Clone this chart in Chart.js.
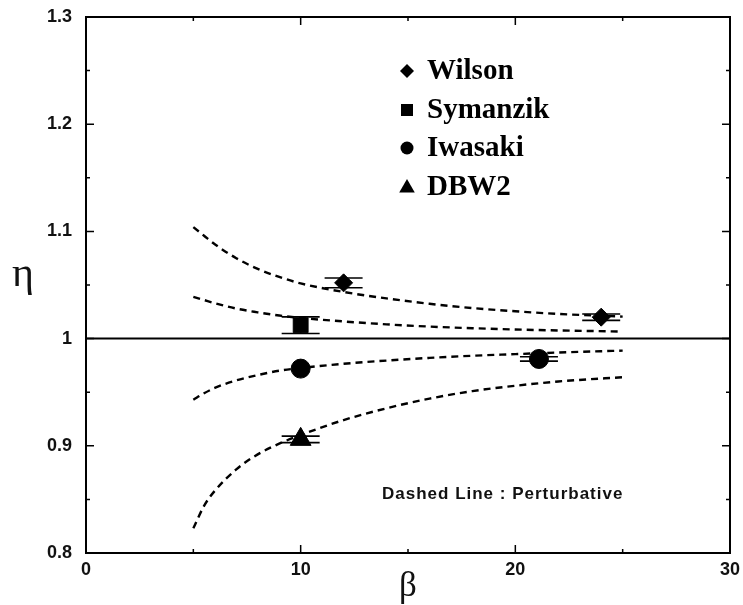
<!DOCTYPE html>
<html>
<head>
<meta charset="utf-8">
<script src="https://cdn.jsdelivr.net/npm/chart.js@4.4.1/dist/chart.umd.min.js"></script>
<style>
  html, body { margin: 0; padding: 0; background: #fff; }
</style>
</head>
<body>
<canvas id="etaChart" width="743" height="605"></canvas>
<script>
// Valores (eta x beta)
const seriesNames = ["Wilson", "Symanzik", "Iwasaki", "DBW2"];

const wilsonBeta = [12, 24];
const wilsonEta = [1.052, 1.020];
const wilsonErr = [0.0045, 0.003];

const symanzikBeta = [10];
const symanzikEta = [1.0125];
const symanzikErr = [0.0078];

const iwasakiBeta = [10, 21.1];
const iwasakiEta = [0.972, 0.981];
const iwasakiErr = [0, 0.002];

const dbw2Beta = [10];
const dbw2Eta = [0.906];
const dbw2Err = [0.003];

// Curvas perturbativas (tracejadas)
const pertBeta = [5, 5.5, 6, 7, 8, 9, 10, 12, 14, 16, 18, 20, 22, 25];
const wilsonPert = [1.104, 1.096, 1.088, 1.075, 1.065, 1.0575, 1.0515, 1.0435, 1.0375, 1.0325, 1.0285, 1.0255, 1.023, 1.0205];
const symanzikPert = [1.039, 1.036, 1.033, 1.028, 1.0245, 1.0215, 1.0193, 1.016, 1.0133, 1.0112, 1.0097, 1.0085, 1.0076, 1.0066];
const iwasakiPert = [0.943, 0.949, 0.954, 0.961, 0.966, 0.970, 0.9725, 0.9765, 0.9795, 0.982, 0.984, 0.9855, 0.987, 0.9888];
const dbw2Pert = [0.823, 0.844, 0.858, 0.878, 0.892, 0.902, 0.910, 0.924, 0.935, 0.944, 0.951, 0.956, 0.960, 0.964];

// Linha eta = 1
const unityBeta = [0, 30];
const unityEta = [1, 1];

// Ticks
const xTicks = [0, 10, 20, 30];
const xTickLabels = ["0", "10", "20", "30"];
const xMinorTicks = [5, 15, 25];
const yTicks = [0.8, 0.9, 1, 1.1, 1.2, 1.3];
const yTickLabels = ["0.8", "0.9", "1", "1.1", "1.2", "1.3"];
const yMinorTicks = [0.85, 0.95, 1.05, 1.15, 1.25];

const noteText = "Dashed Line : Perturbative";

function toPoints(xs, ys) {
    return xs.map((x, i) => ({ x: x, y: ys[i] }));
}

function pertLine(ys) {
    return {
        data: toPoints(pertBeta, ys),
        showLine: true,
        borderColor: "#000",
        borderWidth: 2.4,
        borderDash: [7, 5],
        pointRadius: 0,
        cubicInterpolationMode: "monotone",
        order: 2
    };
}

function markers(name, xs, ys, errs, style, radius) {
    return {
        label: name,
        data: toPoints(xs, ys),
        errors: errs,
        pointStyle: style,
        pointRadius: radius,
        pointHoverRadius: radius,
        backgroundColor: "#000",
        borderColor: "#000",
        borderWidth: 1,
        showLine: false,
        order: 0
    };
}

// Barras de erro (só as "tampas" largas, como na figura)
const errorBars = {
    id: "errorBars",
    afterDatasetsDraw(chart) {
        const ctx = chart.ctx;
        const yScale = chart.scales.y;
        ctx.save();
        ctx.strokeStyle = "#000";
        ctx.lineWidth = 1.6;
        chart.data.datasets.forEach((ds, i) => {
            if (!ds.errors) return;
            chart.getDatasetMeta(i).data.forEach((pt, j) => {
                if (!ds.errors[j]) return;
                const v = ds.data[j].y;
                const yTop = yScale.getPixelForValue(v + ds.errors[j]);
                const yBot = yScale.getPixelForValue(v - ds.errors[j]);
                ctx.beginPath();
                ctx.moveTo(pt.x - 19, yTop); ctx.lineTo(pt.x + 19, yTop);
                ctx.moveTo(pt.x - 19, yBot); ctx.lineTo(pt.x + 19, yBot);
                ctx.moveTo(pt.x, yTop); ctx.lineTo(pt.x, yBot);
                ctx.stroke();
            });
        });
        ctx.restore();
    }
};

// Moldura com ticks para dentro
const frameTicks = {
    id: "frameTicks",
    afterDraw(chart) {
        const ctx = chart.ctx;
        const a = chart.chartArea;
        const xs = chart.scales.x, ys = chart.scales.y;
        ctx.save();
        ctx.strokeStyle = "#000";
        ctx.lineWidth = 2;
        ctx.strokeRect(a.left, a.top, a.right - a.left, a.bottom - a.top);
        ctx.lineWidth = 1.5;
        ctx.beginPath();
        const tickX = (v, len) => {
            const px = xs.getPixelForValue(v);
            ctx.moveTo(px, a.bottom); ctx.lineTo(px, a.bottom - len);
            ctx.moveTo(px, a.top); ctx.lineTo(px, a.top + len);
        };
        const tickY = (v, len) => {
            const py = ys.getPixelForValue(v);
            ctx.moveTo(a.left, py); ctx.lineTo(a.left + len, py);
            ctx.moveTo(a.right, py); ctx.lineTo(a.right - len, py);
        };
        xTicks.forEach(v => tickX(v, 8));
        xMinorTicks.forEach(v => tickX(v, 4));
        yTicks.forEach(v => tickY(v, 8));
        yMinorTicks.forEach(v => tickY(v, 4));
        ctx.stroke();

        // titulos dos eixos
        ctx.fillStyle = "#111";
        ctx.textAlign = "center";
        ctx.textBaseline = "alphabetic";
        ctx.font = '42px "Liberation Serif"';
        ctx.fillText("\u03b7", 23, 286);
        ctx.font = '35px "Liberation Serif"';
        ctx.fillText("\u03b2", 408, 596);

        // nota
        ctx.font = 'bold 17px "Liberation Sans"';
        ctx.textAlign = "left";
        ctx.textBaseline = "middle";
        ctx.letterSpacing = "1px";
        ctx.fillText(noteText, 382, 494);
        ctx.letterSpacing = "0px";
        ctx.restore();
    }
};

// Legenda desenhada dentro do gráfico
function drawMarker(ctx, style, x, y, r) {
    ctx.beginPath();
    if (style === "rectRot") {
        ctx.moveTo(x, y - r); ctx.lineTo(x + r, y); ctx.lineTo(x, y + r); ctx.lineTo(x - r, y);
    } else if (style === "rect") {
        ctx.rect(x - r, y - r, 2 * r, 2 * r);
    } else if (style === "circle") {
        ctx.arc(x, y, r, 0, Math.PI * 2);
    } else if (style === "triangle") {
        ctx.moveTo(x, y - r); ctx.lineTo(x + r * 0.866, y + r * 0.5); ctx.lineTo(x - r * 0.866, y + r * 0.5);
    }
    ctx.closePath();
    ctx.fill();
}

const insideLegend = {
    id: "insideLegend",
    afterDraw(chart) {
        const ctx = chart.ctx;
        const rows = [71, 110, 148, 187];
        const sizes = { rectRot: 7, rect: 6, circle: 6.5, triangle: 9 };
        const offs = { rectRot: 0, rect: 0, circle: 0, triangle: 1 };
        const sets = chart.data.datasets.filter(d => d.label);
        ctx.save();
        ctx.fillStyle = "#000";
        ctx.font = 'bold 29px "Liberation Serif"';
        ctx.textBaseline = "middle";
        ctx.textAlign = "left";
        sets.forEach((ds, i) => {
            drawMarker(ctx, ds.pointStyle, 407, rows[i] + offs[ds.pointStyle], sizes[ds.pointStyle]);
            ctx.fillText(ds.label, 427, rows[i] + 1);
        });
        ctx.restore();
    }
};

const ctx = document.getElementById("etaChart").getContext("2d");

new Chart(ctx, {
    type: "scatter",
    data: {
        datasets: [
            {
                data: toPoints(unityBeta, unityEta),
                showLine: true,
                borderColor: "#000",
                borderWidth: 2,
                pointRadius: 0,
                order: 3
            },
            pertLine(wilsonPert),
            pertLine(symanzikPert),
            pertLine(iwasakiPert),
            pertLine(dbw2Pert),
            markers(seriesNames[0], wilsonBeta, wilsonEta, wilsonErr, "rectRot", 9),
            markers(seriesNames[1], symanzikBeta, symanzikEta, symanzikErr, "rect", 10.5),
            markers(seriesNames[2], iwasakiBeta, iwasakiEta, iwasakiErr, "circle", 9.5),
            markers(seriesNames[3], dbw2Beta, dbw2Eta, dbw2Err, "triangle", 12)
        ]
    },
    options: {
        responsive: false,
        animation: false,
        devicePixelRatio: 1,
        layout: { padding: { top: 17, right: 12, left: 0, bottom: 0 } },
        plugins: {
            legend: { display: false },
            tooltip: { enabled: false }
        },
        scales: {
            x: {
                type: "linear",
                min: 0,
                max: 30,
                afterBuildTicks: s => { s.ticks = xTicks.map(v => ({ value: v })); },
                afterFit: s => { s.height = 52; s.paddingLeft = 0; s.paddingRight = 0; },
                grid: { display: false, drawTicks: false },
                border: { display: false },
                ticks: {
                    color: "#111",
                    padding: 6,
                    maxRotation: 0,
                    callback: (v, i) => xTickLabels[i],
                    font: { family: "Liberation Sans", size: 18, weight: "bold" }
                }
            },
            y: {
                type: "linear",
                min: 0.8,
                max: 1.3,
                afterBuildTicks: s => { s.ticks = yTicks.map(v => ({ value: v })); },
                afterFit: s => { s.width = 86; s.paddingTop = 0; s.paddingBottom = 0; },
                grid: { display: false, drawTicks: false },
                border: { display: false },
                ticks: {
                    color: "#111",
                    padding: 14,
                    callback: (v, i) => yTickLabels[i],
                    font: { family: "Liberation Sans", size: 18, weight: "bold" }
                }
            }
        }
    },
    plugins: [errorBars, frameTicks, insideLegend]
});
</script>
</body>
</html>
